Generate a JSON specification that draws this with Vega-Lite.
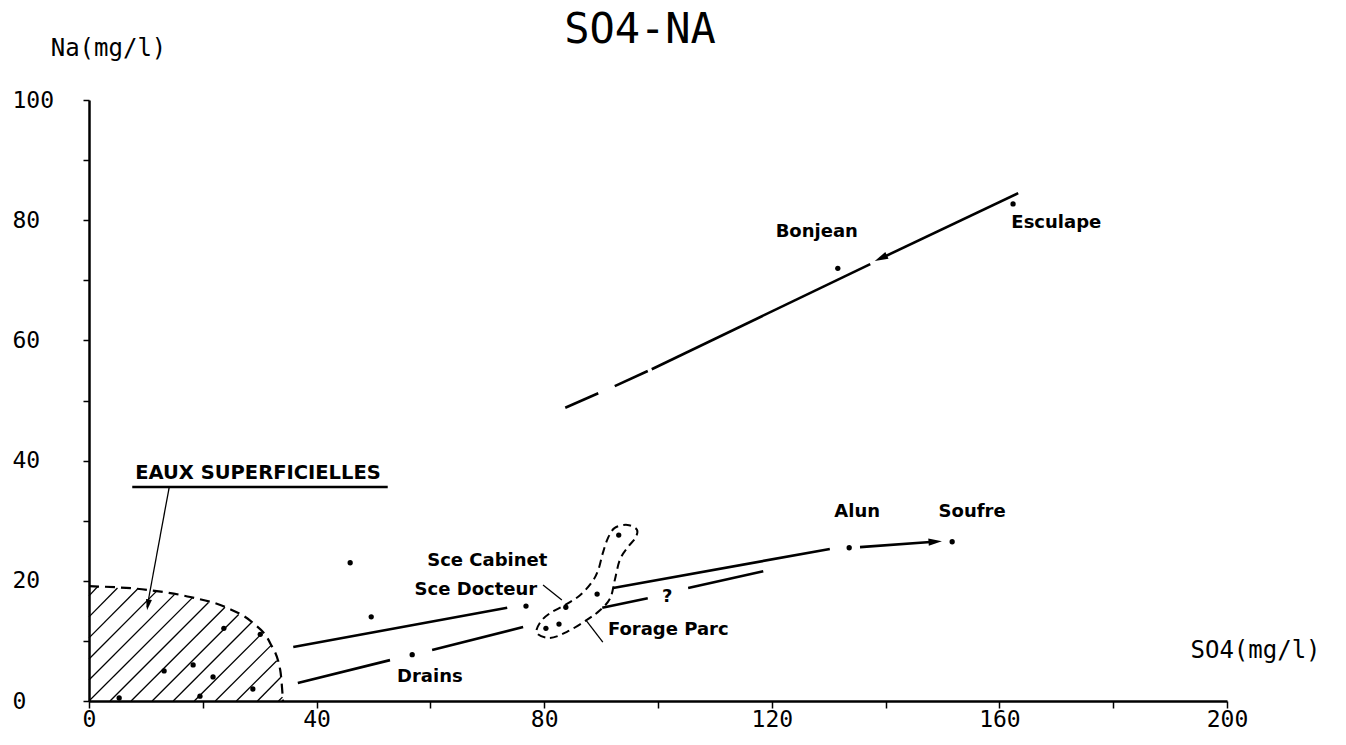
{
  "$schema": "https://vega.github.io/schema/vega-lite/v6.json",
  "autosize": "none",
  "width": 1138,
  "height": 601,
  "padding": {"left": 89, "top": 100, "right": 119, "bottom": 44},
  "background": "white",
  "config": {"view": {"stroke": null}},
  "title": {"text": "SO4-NA", "font": "DejaVu Sans Mono", "fontSize": 42, "fontWeight": "normal", "color": "black", "anchor": "middle", "frame": "group", "dx": -18, "dy": 16, "offset": 0},
  "datasets": {
    "thin": [
      {"seg": "h1", "x": 0, "y": 17.5}, {"seg": "h1", "x": 1.5, "y": 19.0},
      {"seg": "h2", "x": 0, "y": 14.0}, {"seg": "h2", "x": 5.0, "y": 18.8},
      {"seg": "h3", "x": 0, "y": 10.5}, {"seg": "h3", "x": 8.5, "y": 18.6},
      {"seg": "h4", "x": 0, "y": 7.0}, {"seg": "h4", "x": 11.8, "y": 18.2},
      {"seg": "h5", "x": 0, "y": 3.5}, {"seg": "h5", "x": 15.0, "y": 17.7},
      {"seg": "h6", "x": 0, "y": 0}, {"seg": "h6", "x": 18.2, "y": 17.2},
      {"seg": "h7", "x": 3.7, "y": 0}, {"seg": "h7", "x": 21.0, "y": 16.4},
      {"seg": "h8", "x": 7.4, "y": 0}, {"seg": "h8", "x": 23.9, "y": 15.6},
      {"seg": "h9", "x": 11.1, "y": 0}, {"seg": "h9", "x": 26.3, "y": 14.4},
      {"seg": "h10", "x": 14.8, "y": 0}, {"seg": "h10", "x": 28.6, "y": 13.1},
      {"seg": "h11", "x": 18.5, "y": 0}, {"seg": "h11", "x": 30.4, "y": 11.25},
      {"seg": "h12", "x": 22.2, "y": 0}, {"seg": "h12", "x": 32.0, "y": 9.25},
      {"seg": "h13", "x": 25.9, "y": 0}, {"seg": "h13", "x": 33.0, "y": 6.7},
      {"seg": "h14", "x": 29.6, "y": 0}, {"seg": "h14", "x": 33.7, "y": 3.95},
      {"seg": "h15", "x": 33.3, "y": 0}, {"seg": "h15", "x": 34.0, "y": 0.65},
      {"seg": "eauxArrow", "x": 14.1, "y": 35.6}, {"seg": "eauxArrow", "x": 10.2, "y": 15.6},
      {"seg": "cabLead", "x": 79.8, "y": 19.3}, {"seg": "cabLead", "x": 83.1, "y": 16.8},
      {"seg": "forLead", "x": 90.3, "y": 9.8}, {"seg": "forLead", "x": 87.3, "y": 13.5}
    ],
    "thick": [
      {"seg": "esc", "x": 163.3, "y": 84.5}, {"seg": "esc", "x": 139.5, "y": 73.8},
      {"seg": "bon", "x": 137.3, "y": 72.7}, {"seg": "bon", "x": 98.9, "y": 55.2},
      {"seg": "bonD1", "x": 98.2, "y": 54.9}, {"seg": "bonD1", "x": 92.4, "y": 52.4},
      {"seg": "bonD2", "x": 89.5, "y": 51.2}, {"seg": "bonD2", "x": 83.7, "y": 48.8},
      {"seg": "up1", "x": 35.9, "y": 9.0}, {"seg": "up1", "x": 73.5, "y": 15.5},
      {"seg": "up2", "x": 92.1, "y": 18.8}, {"seg": "up2", "x": 130.2, "y": 25.3},
      {"seg": "alun", "x": 135.5, "y": 25.6}, {"seg": "alun", "x": 148.5, "y": 26.5},
      {"seg": "lo1", "x": 36.7, "y": 3.0}, {"seg": "lo1", "x": 52.9, "y": 6.8},
      {"seg": "lo2", "x": 60.3, "y": 8.5}, {"seg": "lo2", "x": 76.3, "y": 12.3},
      {"seg": "lo3", "x": 90.2, "y": 15.5}, {"seg": "lo3", "x": 98.2, "y": 17.1},
      {"seg": "lo4", "x": 105.3, "y": 18.8}, {"seg": "lo4", "x": 118.5, "y": 21.6},
      {"seg": "underline", "x": 7.6, "y": 35.6}, {"seg": "underline", "x": 52.5, "y": 35.6}
    ],
    "boundary": [
      {"i": 0, "x": 0, "y": 19.1}, {"i": 1, "x": 10.2, "y": 18.5}, {"i": 2, "x": 17.8, "y": 17.3},
      {"i": 3, "x": 24.3, "y": 15.5}, {"i": 4, "x": 28.8, "y": 13.0}, {"i": 5, "x": 31.8, "y": 9.7},
      {"i": 6, "x": 33.6, "y": 5.2}, {"i": 7, "x": 34.1, "y": 0}
    ],
    "enclosure": [
      {"i": 0, "x": 78.7, "y": 11.3}, {"i": 1, "x": 81.0, "y": 10.5}, {"i": 2, "x": 84.0, "y": 11.5},
      {"i": 3, "x": 87.5, "y": 13.5}, {"i": 4, "x": 89.8, "y": 15.1}, {"i": 5, "x": 91.6, "y": 17.1},
      {"i": 6, "x": 92.4, "y": 20.1}, {"i": 7, "x": 93.3, "y": 23.5}, {"i": 8, "x": 94.7, "y": 25.6},
      {"i": 9, "x": 96.0, "y": 27.1}, {"i": 10, "x": 96.3, "y": 28.5}, {"i": 11, "x": 94.6, "y": 29.3},
      {"i": 12, "x": 92.4, "y": 28.8}, {"i": 13, "x": 91.2, "y": 27.1}, {"i": 14, "x": 90.3, "y": 24.6},
      {"i": 15, "x": 89.5, "y": 21.8}, {"i": 16, "x": 88.4, "y": 19.8}, {"i": 17, "x": 86.3, "y": 17.6},
      {"i": 18, "x": 83.7, "y": 16.0}, {"i": 19, "x": 81.0, "y": 14.6}, {"i": 20, "x": 79.3, "y": 13.1}
    ],
    "points": [
      {"x": 162.4, "y": 82.7}, {"x": 131.6, "y": 72.0}, {"x": 133.6, "y": 25.5}, {"x": 151.7, "y": 26.5},
      {"x": 45.9, "y": 23.0}, {"x": 49.6, "y": 14.0}, {"x": 56.8, "y": 7.7}, {"x": 76.8, "y": 15.8},
      {"x": 83.8, "y": 15.6}, {"x": 89.3, "y": 17.8}, {"x": 93.1, "y": 27.6}, {"x": 80.3, "y": 12.1},
      {"x": 82.6, "y": 12.8}, {"x": 23.7, "y": 12.1}, {"x": 30.1, "y": 11.1}, {"x": 13.2, "y": 5.0},
      {"x": 18.3, "y": 6.0}, {"x": 21.8, "y": 4.0}, {"x": 28.8, "y": 2.0}, {"x": 5.3, "y": 0.5},
      {"x": 19.5, "y": 0.8}
    ],
    "labels": [
      {"x": 127.9, "y": 78.0, "t": "Bonjean"},
      {"x": 170.0, "y": 79.5, "t": "Esculape"},
      {"x": 135.0, "y": 31.4, "t": "Alun"},
      {"x": 155.2, "y": 31.4, "t": "Soufre"},
      {"x": 70.0, "y": 23.3, "t": "Sce Cabinet"},
      {"x": 68.0, "y": 18.5, "t": "Sce Docteur"},
      {"x": 101.8, "y": 11.8, "t": "Forage Parc"},
      {"x": 59.9, "y": 4.0, "t": "Drains"},
      {"x": 101.6, "y": 17.3, "t": "?"}
    ]
  },
  "encoding": {
    "x": {
      "field": "x", "type": "quantitative",
      "scale": {"domain": [0, 200], "nice": false, "zero": false},
      "axis": {
        "title": "SO4(mg/l)", "values": [0, 20, 40, 60, 80, 100, 120, 140, 160, 180, 200],
        "labelExpr": "datum.value % 40 === 0 ? datum.label : ''",
        "grid": false, "domainColor": "black", "domainWidth": 2.5,
        "tickColor": "black", "tickWidth": 1.5, "tickSize": 7,
        "labelFont": "DejaVu Sans Mono", "labelFontSize": 23, "labelColor": "black", "labelPadding": 0,
        "labelOverlap": false, "labelFlush": false, "labelBound": false,
        "titleX": 1166, "titleY": -51, "titleAlign": "center", "titleBaseline": "middle",
        "titleFont": "DejaVu Sans Mono", "titleFontSize": 24, "titleFontWeight": "normal", "titleColor": "black"
      }
    },
    "y": {
      "field": "y", "type": "quantitative",
      "scale": {"domain": [0, 100], "nice": false, "zero": false},
      "axis": {
        "title": "Na(mg/l)", "values": [0, 10, 20, 30, 40, 50, 60, 70, 80, 90, 100],
        "labelExpr": "datum.value % 20 === 0 ? datum.label : ''",
        "grid": false, "domainColor": "black", "domainWidth": 2.5,
        "tickColor": "black", "tickWidth": 1.5, "tickSize": 6,
        "labelFont": "DejaVu Sans Mono", "labelFontSize": 23, "labelColor": "black",
        "labelAlign": "left", "labelPadding": 71, "labelOverlap": false, "labelFlush": false, "labelBound": false,
        "titleAngle": 0, "titleX": 19, "titleY": -52, "titleAlign": "center", "titleBaseline": "middle",
        "titleFont": "DejaVu Sans Mono", "titleFontSize": 24, "titleFontWeight": "normal", "titleColor": "black"
      }
    }
  },
  "layer": [
    {
      "data": {"name": "thin"},
      "mark": {"type": "line", "color": "black", "strokeWidth": 1.3, "clip": false},
      "encoding": {"detail": {"field": "seg"}}
    },
    {
      "data": {"name": "thick"},
      "mark": {"type": "line", "color": "black", "strokeWidth": 2.6},
      "encoding": {"detail": {"field": "seg"}}
    },
    {
      "data": {"name": "boundary"},
      "mark": {"type": "line", "color": "black", "strokeWidth": 2.2, "strokeDash": [10, 6], "interpolate": "monotone"},
      "encoding": {"order": {"field": "i"}}
    },
    {
      "data": {"name": "enclosure"},
      "mark": {"type": "line", "color": "black", "strokeWidth": 2, "strokeDash": [8, 5], "interpolate": "cardinal-closed"},
      "encoding": {"order": {"field": "i"}}
    },
    {
      "data": {"name": "points"},
      "mark": {"type": "point", "filled": true, "color": "black", "size": 28, "opacity": 1}
    },
    {
      "data": {"values": [{"x": 138.1, "y": 73.2}]},
      "mark": {"type": "point", "filled": true, "color": "black", "opacity": 1, "size": 180, "shape": "M0,0 L-2,-0.55 L-2,0.55 Z", "angle": 154.6}
    },
    {
      "data": {"values": [{"x": 149.9, "y": 26.6}]},
      "mark": {"type": "point", "filled": true, "color": "black", "opacity": 1, "size": 180, "shape": "M0,0 L-2,-0.55 L-2,0.55 Z", "angle": 355.8}
    },
    {
      "data": {"values": [{"x": 10.2, "y": 15.1}]},
      "mark": {"type": "point", "filled": true, "color": "black", "opacity": 1, "size": 120, "shape": "M0,0 L-2,-0.55 L-2,0.55 Z", "angle": 100.1}
    },
    {
      "data": {"name": "labels"},
      "mark": {"type": "text", "font": "DejaVu Sans", "fontWeight": "bold", "fontSize": 18, "color": "black", "align": "center", "baseline": "middle"},
      "encoding": {"text": {"field": "t"}}
    },
    {
      "data": {"values": [{"x": 29.7, "y": 37.9, "t": "EAUX SUPERFICIELLES"}]},
      "mark": {"type": "text", "font": "DejaVu Sans", "fontWeight": "bold", "fontSize": 19.5, "color": "black", "align": "center", "baseline": "middle"},
      "encoding": {"text": {"field": "t"}}
    }
  ]
}
